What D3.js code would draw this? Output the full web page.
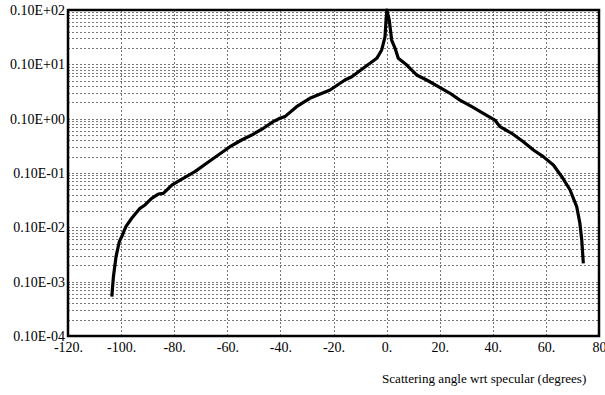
<!DOCTYPE html>
<html>
<head>
<meta charset="utf-8">
<script src="https://cdn.jsdelivr.net/npm/d3@7"></script>
<style>
  html, body { margin: 0; padding: 0; background: #fff; }
  svg text { font-family: "Liberation Serif", "DejaVu Serif", serif; fill: #000; }
</style>
</head>
<body>
<svg id="canvas" width="605" height="395"></svg>
<script>
// Scattering angle (deg) and intensity
var angles = [-103.5, -102.9, -101.9, -100.7, -99.8, -98.2, -96.0, -92.9, -91.0, -88.5,
  -86.0, -84.1, -80.9, -77.8, -76.6, -72.2, -67.8, -63.4, -59.0, -54.6,
  -50.8, -46.4, -42.7, -40.2, -38.3, -33.9, -28.9, -21.3, -15.7, -13.1,
  -8.8, -3.7, -1.85, -0.6, -0.2, 0.1, 1.0, 1.9, 3.2, 4.4,
  7.6, 11.3, 15.1, 19.5, 23.9, 27.6, 32.1, 36.4, 40.8, 42.7,
  47.1, 51.5, 55.3, 59.0, 62.8, 66.0, 69.1, 71.6, 72.8, 73.5, 74.1];
var intensity = [5.3e-5, 1.23e-4, 2.9e-4, 5.4e-4, 6.7e-4, 1.03e-3, 1.47e-3, 2.24e-3, 2.58e-3, 3.42e-3,
  4.1e-3, 4.23e-3, 6.0e-3, 7.4e-3, 7.98e-3, 0.0106, 0.0151, 0.0214, 0.0305, 0.0405,
  0.050, 0.0665, 0.088, 0.1016, 0.109, 0.166, 0.237, 0.337, 0.515, 0.592,
  0.845, 1.29, 1.84, 3.2, 6.5, 10, 6.5, 2.8, 1.97, 1.29,
  0.97, 0.637, 0.515, 0.387, 0.293, 0.220, 0.166, 0.1255, 0.0944, 0.0711,
  0.0538, 0.0377, 0.0265, 0.020, 0.0140, 8.55e-3, 4.86e-3, 2.40e-3, 1.19e-3, 5.85e-4, 2.18e-4];

var xTicks = [-120, -100, -80, -60, -40, -20, 0, 20, 40, 60, 80];
var xTickLabels = ['-120.', '-100.', '-80.', '-60.', '-40.', '-20.', '0.', '20.', '40.', '60.', '80'];
var yTicks = [10, 1, 0.1, 0.01, 0.001, 0.0001, 0.00001];
var yTickLabels = ['0.10E+02', '0.10E+01', '0.10E+00', '0.10E-01', '0.10E-02', '0.10E-03', '0.10E-04'];
var xLabel = 'Scattering angle wrt specular (degrees)';

var margin = { top: 10, right: 6, bottom: 59, left: 68 };
var width = 605, height = 395;
var serif = '"Liberation Serif", "DejaVu Serif", serif';

var canvas = d3.select('#canvas');

var x = d3.scaleLinear().domain([-120, 80]).range([margin.left, width - margin.right]);
var y = d3.scaleLog().domain([1e-5, 10]).range([height - margin.bottom, margin.top]);

// grid
var grid = canvas.append('g').attr('class', 'grid');
grid.selectAll('.hgrid')
  .data(y.ticks())
  .enter().append('line')
  .attr('x1', x(-120)).attr('x2', x(80))
  .attr('y1', function (d) { return Math.round(y(d)) + 0.5; })
  .attr('y2', function (d) { return Math.round(y(d)) + 0.5; })
  .attr('stroke', '#555')
  .attr('stroke-width', 0.8)
  .attr('stroke-dasharray', '2,2');

grid.selectAll('.vgrid')
  .data(xTicks.slice(1, -1))
  .enter().append('line')
  .attr('x1', function (d) { return Math.round(x(d)) + 0.5; })
  .attr('x2', function (d) { return Math.round(x(d)) + 0.5; })
  .attr('y1', y(10)).attr('y2', y(1e-5))
  .attr('stroke', '#555')
  .attr('stroke-width', 0.8)
  .attr('stroke-dasharray', '2,2');

// curve
var data = angles.map(function (a, i) { return [a, intensity[i]]; });
var line = d3.line()
  .x(function (d) { return x(d[0]); })
  .y(function (d) { return y(d[1]); });

canvas.append('path')
  .datum(data)
  .attr('d', line)
  .attr('fill', 'none')
  .attr('stroke', '#000')
  .attr('stroke-width', 3.2)
  .attr('stroke-linejoin', 'round');

// frame
canvas.append('rect')
  .attr('x', x(-120)).attr('y', y(10))
  .attr('width', x(80) - x(-120))
  .attr('height', y(1e-5) - y(10))
  .attr('fill', 'none')
  .attr('stroke', '#000')
  .attr('stroke-width', 2.5);

// axes
var xAxis = d3.axisBottom(x)
  .tickValues(xTicks)
  .tickSize(0)
  .tickPadding(6)
  .tickFormat(function (d, i) { return xTickLabels[i]; });

canvas.append('g')
  .attr('transform', 'translate(0,' + y(1e-5) + ')')
  .call(xAxis)
  .attr('font-family', serif)
  .attr('font-size', 14)
  .call(function (g) { g.select('.domain').remove(); });

var yAxis = d3.axisLeft(y)
  .tickValues(yTicks)
  .tickSize(0)
  .tickPadding(3)
  .tickFormat(function (d, i) { return yTickLabels[i]; });

canvas.append('g')
  .attr('transform', 'translate(' + x(-120) + ',0)')
  .call(yAxis)
  .attr('font-family', serif)
  .attr('font-size', 14)
  .call(function (g) { g.select('.domain').remove(); });

canvas.append('text')
  .attr('x', 382)
  .attr('y', 383)
  .attr('text-anchor', 'start')
  .style('font-size', '13.1px')
  .text(xLabel);
</script>
</body>
</html>
